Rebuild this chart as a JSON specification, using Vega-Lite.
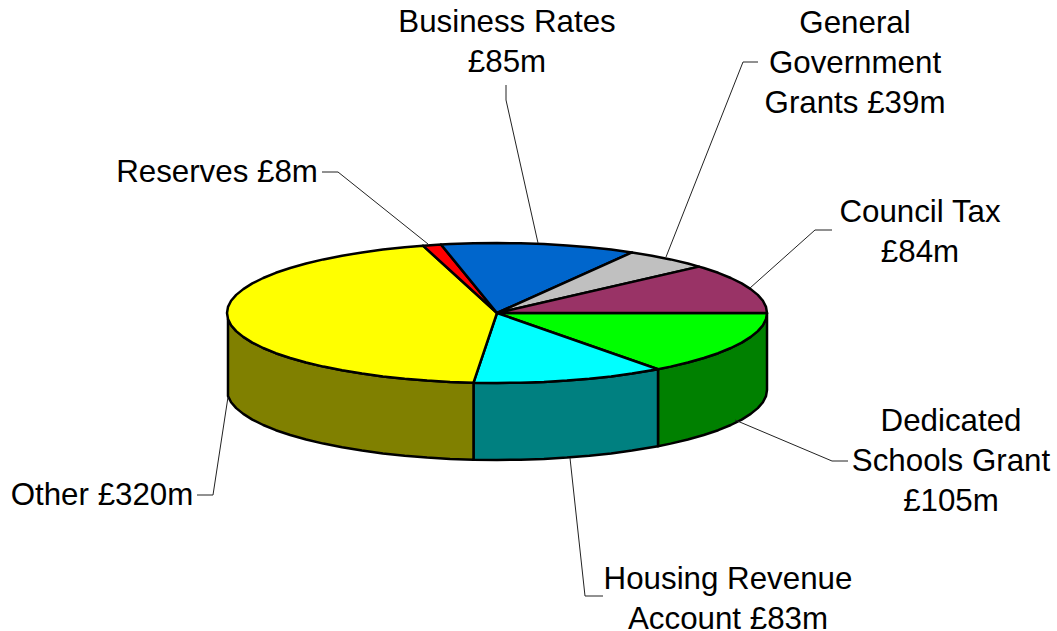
{"$schema":"https://vega.github.io/schema/vega-lite/v6.json","width":1057,"height":631,"padding":0,"autosize":{"type":"none"},"background":"white","view":{"stroke":null},"datasets":{"pie":[
{"p":"Dedicated Schools Grant wall","x":767,"y":313},{"p":"Dedicated Schools Grant wall","x":766,"y":319.1},{"p":"Dedicated Schools Grant wall","x":762.9,"y":325.2},{"p":"Dedicated Schools Grant wall","x":757.8,"y":331.1},{"p":"Dedicated Schools Grant wall","x":750.7,"y":336.9},{"p":"Dedicated Schools Grant wall","x":741.7,"y":342.6},{"p":"Dedicated Schools Grant wall","x":730.8,"y":348},{"p":"Dedicated Schools Grant wall","x":718.2,"y":353.2},{"p":"Dedicated Schools Grant wall","x":703.8,"y":358},{"p":"Dedicated Schools Grant wall","x":687.9,"y":362.5},{"p":"Dedicated Schools Grant wall","x":670.6,"y":366.6},{"p":"Dedicated Schools Grant wall","x":658,"y":369.2},{"p":"Dedicated Schools Grant wall","x":658,"y":446.2},{"p":"Dedicated Schools Grant wall","x":670.6,"y":443.6},{"p":"Dedicated Schools Grant wall","x":687.9,"y":439.5},{"p":"Dedicated Schools Grant wall","x":703.8,"y":435},{"p":"Dedicated Schools Grant wall","x":718.2,"y":430.2},{"p":"Dedicated Schools Grant wall","x":730.8,"y":425},{"p":"Dedicated Schools Grant wall","x":741.7,"y":419.6},{"p":"Dedicated Schools Grant wall","x":750.7,"y":413.9},{"p":"Dedicated Schools Grant wall","x":757.8,"y":408.1},{"p":"Dedicated Schools Grant wall","x":762.9,"y":402.2},{"p":"Dedicated Schools Grant wall","x":766,"y":396.1},{"p":"Dedicated Schools Grant wall","x":767,"y":390},{"p":"Dedicated Schools Grant wall","x":767,"y":313},
{"p":"Housing Revenue Account wall","x":658,"y":369.2},{"p":"Housing Revenue Account wall","x":651.9,"y":370.3},{"p":"Housing Revenue Account wall","x":632,"y":373.6},{"p":"Housing Revenue Account wall","x":611.1,"y":376.4},{"p":"Housing Revenue Account wall","x":589.3,"y":378.8},{"p":"Housing Revenue Account wall","x":566.9,"y":380.6},{"p":"Housing Revenue Account wall","x":543.9,"y":381.9},{"p":"Housing Revenue Account wall","x":520.5,"y":382.7},{"p":"Housing Revenue Account wall","x":497,"y":383},{"p":"Housing Revenue Account wall","x":473.5,"y":382.7},{"p":"Housing Revenue Account wall","x":473.5,"y":459.7},{"p":"Housing Revenue Account wall","x":497,"y":460},{"p":"Housing Revenue Account wall","x":520.5,"y":459.7},{"p":"Housing Revenue Account wall","x":543.9,"y":458.9},{"p":"Housing Revenue Account wall","x":566.9,"y":457.6},{"p":"Housing Revenue Account wall","x":589.3,"y":455.8},{"p":"Housing Revenue Account wall","x":611.1,"y":453.4},{"p":"Housing Revenue Account wall","x":632,"y":450.6},{"p":"Housing Revenue Account wall","x":651.9,"y":447.3},{"p":"Housing Revenue Account wall","x":658,"y":446.2},{"p":"Housing Revenue Account wall","x":658,"y":369.2},
{"p":"Other wall","x":473.5,"y":382.7},{"p":"Other wall","x":450.1,"y":381.9},{"p":"Other wall","x":427.1,"y":380.6},{"p":"Other wall","x":404.7,"y":378.8},{"p":"Other wall","x":382.9,"y":376.4},{"p":"Other wall","x":362,"y":373.6},{"p":"Other wall","x":342.1,"y":370.3},{"p":"Other wall","x":323.4,"y":366.6},{"p":"Other wall","x":306.1,"y":362.5},{"p":"Other wall","x":290.2,"y":358},{"p":"Other wall","x":275.8,"y":353.2},{"p":"Other wall","x":263.2,"y":348},{"p":"Other wall","x":252.3,"y":342.6},{"p":"Other wall","x":243.3,"y":336.9},{"p":"Other wall","x":236.2,"y":331.1},{"p":"Other wall","x":231.1,"y":325.2},{"p":"Other wall","x":228,"y":319.1},{"p":"Other wall","x":228,"y":396.1},{"p":"Other wall","x":231.1,"y":402.2},{"p":"Other wall","x":236.2,"y":408.1},{"p":"Other wall","x":243.3,"y":413.9},{"p":"Other wall","x":252.3,"y":419.6},{"p":"Other wall","x":263.2,"y":425},{"p":"Other wall","x":275.8,"y":430.2},{"p":"Other wall","x":290.2,"y":435},{"p":"Other wall","x":306.1,"y":439.5},{"p":"Other wall","x":323.4,"y":443.6},{"p":"Other wall","x":342.1,"y":447.3},{"p":"Other wall","x":362,"y":450.6},{"p":"Other wall","x":382.9,"y":453.4},{"p":"Other wall","x":404.7,"y":455.8},{"p":"Other wall","x":427.1,"y":457.6},{"p":"Other wall","x":450.1,"y":458.9},{"p":"Other wall","x":473.5,"y":459.7},{"p":"Other wall","x":473.5,"y":382.7},
{"p":"Dedicated Schools Grant","x":497,"y":313},{"p":"Dedicated Schools Grant","x":767,"y":313},{"p":"Dedicated Schools Grant","x":766,"y":319.1},{"p":"Dedicated Schools Grant","x":762.9,"y":325.2},{"p":"Dedicated Schools Grant","x":757.8,"y":331.1},{"p":"Dedicated Schools Grant","x":750.7,"y":336.9},{"p":"Dedicated Schools Grant","x":741.7,"y":342.6},{"p":"Dedicated Schools Grant","x":730.8,"y":348},{"p":"Dedicated Schools Grant","x":718.2,"y":353.2},{"p":"Dedicated Schools Grant","x":703.8,"y":358},{"p":"Dedicated Schools Grant","x":687.9,"y":362.5},{"p":"Dedicated Schools Grant","x":670.6,"y":366.6},{"p":"Dedicated Schools Grant","x":658,"y":369.2},{"p":"Dedicated Schools Grant","x":497,"y":313},
{"p":"Housing Revenue Account","x":497,"y":313},{"p":"Housing Revenue Account","x":658,"y":369.2},{"p":"Housing Revenue Account","x":651.9,"y":370.3},{"p":"Housing Revenue Account","x":632,"y":373.6},{"p":"Housing Revenue Account","x":611.1,"y":376.4},{"p":"Housing Revenue Account","x":589.3,"y":378.8},{"p":"Housing Revenue Account","x":566.9,"y":380.6},{"p":"Housing Revenue Account","x":543.9,"y":381.9},{"p":"Housing Revenue Account","x":520.5,"y":382.7},{"p":"Housing Revenue Account","x":497,"y":383},{"p":"Housing Revenue Account","x":473.5,"y":382.7},{"p":"Housing Revenue Account","x":497,"y":313},
{"p":"Other","x":497,"y":313},{"p":"Other","x":473.5,"y":382.7},{"p":"Other","x":450.1,"y":381.9},{"p":"Other","x":427.1,"y":380.6},{"p":"Other","x":404.7,"y":378.8},{"p":"Other","x":382.9,"y":376.4},{"p":"Other","x":362,"y":373.6},{"p":"Other","x":342.1,"y":370.3},{"p":"Other","x":323.4,"y":366.6},{"p":"Other","x":306.1,"y":362.5},{"p":"Other","x":290.2,"y":358},{"p":"Other","x":275.8,"y":353.2},{"p":"Other","x":263.2,"y":348},{"p":"Other","x":252.3,"y":342.6},{"p":"Other","x":243.3,"y":336.9},{"p":"Other","x":236.2,"y":331.1},{"p":"Other","x":231.1,"y":325.2},{"p":"Other","x":228,"y":319.1},{"p":"Other","x":227,"y":313},{"p":"Other","x":228,"y":306.9},{"p":"Other","x":231.1,"y":300.8},{"p":"Other","x":236.2,"y":294.9},{"p":"Other","x":243.3,"y":289.1},{"p":"Other","x":252.3,"y":283.4},{"p":"Other","x":263.2,"y":278},{"p":"Other","x":275.8,"y":272.8},{"p":"Other","x":290.2,"y":268},{"p":"Other","x":306.1,"y":263.5},{"p":"Other","x":323.4,"y":259.4},{"p":"Other","x":342.1,"y":255.7},{"p":"Other","x":362,"y":252.4},{"p":"Other","x":382.9,"y":249.6},{"p":"Other","x":404.7,"y":247.2},{"p":"Other","x":423,"y":245.7},{"p":"Other","x":497,"y":313},
{"p":"Reserves","x":497,"y":313},{"p":"Reserves","x":423,"y":245.7},{"p":"Reserves","x":427.1,"y":245.4},{"p":"Reserves","x":441,"y":244.5},{"p":"Reserves","x":497,"y":313},
{"p":"Business Rates","x":497,"y":313},{"p":"Business Rates","x":441,"y":244.5},{"p":"Business Rates","x":450.1,"y":244.1},{"p":"Business Rates","x":473.5,"y":243.3},{"p":"Business Rates","x":497,"y":243},{"p":"Business Rates","x":520.5,"y":243.3},{"p":"Business Rates","x":543.9,"y":244.1},{"p":"Business Rates","x":566.9,"y":245.4},{"p":"Business Rates","x":589.3,"y":247.2},{"p":"Business Rates","x":611.1,"y":249.6},{"p":"Business Rates","x":632,"y":252.4},{"p":"Business Rates","x":497,"y":313},
{"p":"General Government Grants","x":497,"y":313},{"p":"General Government Grants","x":632,"y":252.4},{"p":"General Government Grants","x":651.9,"y":255.7},{"p":"General Government Grants","x":670.6,"y":259.4},{"p":"General Government Grants","x":687.9,"y":263.5},{"p":"General Government Grants","x":699,"y":266.6},{"p":"General Government Grants","x":497,"y":313},
{"p":"Council Tax","x":497,"y":313},{"p":"Council Tax","x":699,"y":266.6},{"p":"Council Tax","x":703.8,"y":268},{"p":"Council Tax","x":718.2,"y":272.8},{"p":"Council Tax","x":730.8,"y":278},{"p":"Council Tax","x":741.7,"y":283.4},{"p":"Council Tax","x":750.7,"y":289.1},{"p":"Council Tax","x":757.8,"y":294.9},{"p":"Council Tax","x":762.9,"y":300.8},{"p":"Council Tax","x":766,"y":306.9},{"p":"Council Tax","x":767,"y":313},{"p":"Council Tax","x":497,"y":313}
],"leaders":[
{"l":"Reserves","x":322,"y":172},{"l":"Reserves","x":338,"y":172},{"l":"Reserves","x":428,"y":244},
{"l":"Business Rates","x":506,"y":85},{"l":"Business Rates","x":506,"y":100},{"l":"Business Rates","x":538,"y":243},
{"l":"General Government Grants","x":758,"y":62},{"l":"General Government Grants","x":743,"y":62},{"l":"General Government Grants","x":666,"y":257},
{"l":"Council Tax","x":832,"y":230},{"l":"Council Tax","x":815,"y":230},{"l":"Council Tax","x":750,"y":288},
{"l":"Dedicated Schools Grant","x":848,"y":461},{"l":"Dedicated Schools Grant","x":832,"y":461},{"l":"Dedicated Schools Grant","x":735,"y":420},
{"l":"Housing Revenue Account","x":603,"y":596},{"l":"Housing Revenue Account","x":585,"y":596},{"l":"Housing Revenue Account","x":570,"y":458},
{"l":"Other","x":197,"y":495},{"l":"Other","x":213,"y":495},{"l":"Other","x":228,"y":397}
],"labels":[
{"t":"Business Rates\n£85m","x":507,"y":32},
{"t":"General\nGovernment\nGrants £39m","x":855,"y":33},
{"t":"Council Tax\n£84m","x":920,"y":222},
{"t":"Reserves £8m","x":217,"y":182},
{"t":"Dedicated\nSchools Grant\n£105m","x":951,"y":431},
{"t":"Housing Revenue\nAccount £83m","x":728,"y":589},
{"t":"Other £320m","x":102,"y":505}
]},
"encoding":{"x":{"field":"x","type":"quantitative","axis":null,"scale":{"domain":[0,1057]}},"y":{"field":"y","type":"quantitative","axis":null,"scale":{"domain":[631,0]}}},
"layer":[
{"data":{"name":"pie"},"transform":[{"window":[{"op":"row_number","as":"k"}],"groupby":["p"]}],"mark":{"type":"line","stroke":"#000000","strokeWidth":2.5,"strokeJoin":"round"},"encoding":{"order":{"field":"k","type":"quantitative"},"detail":{"field":"p"},"fill":{"field":"p","type":"nominal","legend":null,"sort":null,"scale":{"domain":["Dedicated Schools Grant wall","Housing Revenue Account wall","Other wall","Dedicated Schools Grant","Housing Revenue Account","Other","Reserves","Business Rates","General Government Grants","Council Tax"],"range":["#008000","#008080","#808000","#00ff00","#00ffff","#ffff00","#ff0000","#0066cc","#c0c0c0","#993366"]}}}},
{"data":{"name":"leaders"},"transform":[{"window":[{"op":"row_number","as":"k"}],"groupby":["l"]}],"mark":{"type":"line","stroke":"#222222","strokeWidth":1},"encoding":{"order":{"field":"k","type":"quantitative"},"detail":{"field":"l"}}},
{"data":{"name":"labels"},"mark":{"type":"text","font":"Liberation Sans","fontSize":31.3,"lineHeight":40,"lineBreak":"\n","align":"center","baseline":"alphabetic","color":"#000000"},"encoding":{"text":{"field":"t"}}}
]}
